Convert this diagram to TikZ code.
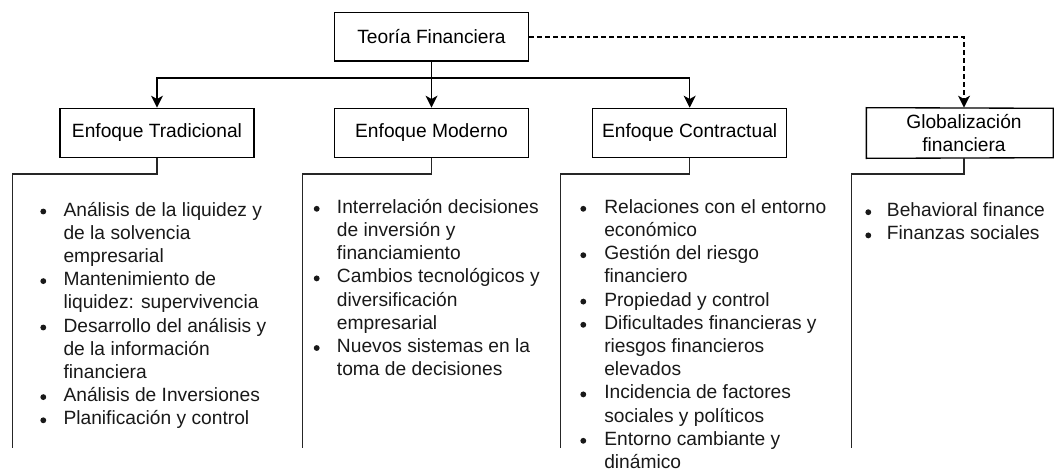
\documentclass[tikz,border=0pt]{standalone}
\usepackage{fontspec}
\setmainfont{Liberation Sans}
\usetikzlibrary{arrows.meta}
\begin{document}
\begin{tikzpicture}[x=0.75pt,y=-0.75pt,
  font=\fontsize{14.4pt}{17.4pt}\selectfont,
  box/.style={draw, line width=1pt, minimum width=145.5pt, minimum height=37pt, inner sep=0pt, align=center},
  arr/.style={line width=1pt, -{Stealth[length=9pt,width=9pt,inset=2.5pt]}},
  brk/.style={line width=1pt, draw=black!85},
  itemtxt/.style={anchor=base west, inner sep=0pt, text=black!90},
  bul/.style={circle, fill=black!90, inner sep=0pt, minimum size=4.4pt}]
\useasboundingbox (0,0) rectangle (1054,471);

% boxes
\node[box, minimum height=36.2pt] (teo) at (431.5,36.9) {Teoría Financiera};
\node[box] (trad) at (157,133) {Enfoque Tradicional};
\node[box] (mod) at (431.5,133) {Enfoque Moderno};
\node[box] (con) at (689.7,133) {Enfoque Contractual};
\node[box, draw=none, font=\fontsize{14.4pt}{16.8pt}\selectfont] (glob) at (964,133) {Globalización\\financiera};
\draw[line width=1pt] (glob.north west) -- (1053.3,108.3) -- (1053.3,157.7) -- (glob.south west) -- cycle;

% connectors
\draw[arr] (teo.south) -- (mod.north);
\draw[arr] (teo.south) -- ++(0,16.3) -| (trad.north);
\draw[arr] (teo.south) -- ++(0,16.3) -| (con.north);
\draw[arr, dash pattern=on 3.5pt off 2.5pt] (teo.east) -| (glob.north);

% brackets
\coordinate (e1) at (12.3,447.5);
\coordinate (e2) at (302.3,447.5);
\coordinate (e3) at (560.7,447.5);
\coordinate (e4) at (851.5,447.5);
\draw[brk] (trad.south) -- ++(0,15.6) -| (e1);
\draw[brk] (mod.south) -- ++(0,15.6) -| (e2);
\draw[brk] (con.south) -- ++(0,15.6) -| (e3);
\draw[brk] (glob.south) -- ++(0,15.6) -| (e4);

% lists
\foreach \b/\t [count=\i] in {1/Análisis de la liquidez y, 0/de la solvencia, 0/empresarial, 1/Mantenimiento de, 0/liquidez: supervivencia, 1/Desarrollo del análisis y, 0/de la información, 0/financiera, 1/Análisis de Inversiones, 1/Planificación y control}{
  \node[itemtxt] (a\i) at (63.3,{216+23.2*(\i-1)}) {\t};
  \ifnum\b=1 \node[bul] (ab\i) at (43.3,{216+23.2*(\i-1)-4.5}) {};\fi
}
\foreach \b/\t [count=\i] in {1/Interrelación decisiones, 0/de inversión y, 0/financiamiento, 1/Cambios tecnológicos y, 0/diversificación, 0/empresarial, 1/Nuevos sistemas en la, 0/toma de decisiones}{
  \node[itemtxt] (b\i) at (336.7,{213.3+23.2*(\i-1)}) {\t};
  \ifnum\b=1 \node[bul] (bb\i) at (316.7,{213.3+23.2*(\i-1)-4.5}) {};\fi
}
\foreach \b/\t [count=\i] in {1/Relaciones con el entorno, 0/económico, 1/Gestión del riesgo, 0/financiero, 1/Propiedad y control, 1/Dificultades financieras y, 0/riesgos financieros, 0/elevados, 1/Incidencia de factores, 0/sociales y políticos, 1/Entorno cambiante y, 0/dinámico}{
  \node[itemtxt] (c\i) at (604,{213.3+23.2*(\i-1)}) {\t};
  \ifnum\b=1 \node[bul] (cb\i) at (583.3,{213.3+23.2*(\i-1)-4.5}) {};\fi
}
\foreach \b/\t [count=\i] in {1/Behavioral finance, 1/Finanzas sociales}{
  \node[itemtxt] (d\i) at (886.7,{216.7+23.2*(\i-1)}) {\t};
  \ifnum\b=1 \node[bul] (db\i) at (868.3,{216.7+23.2*(\i-1)-4.5}) {};\fi
}
\end{tikzpicture}
\end{document}
